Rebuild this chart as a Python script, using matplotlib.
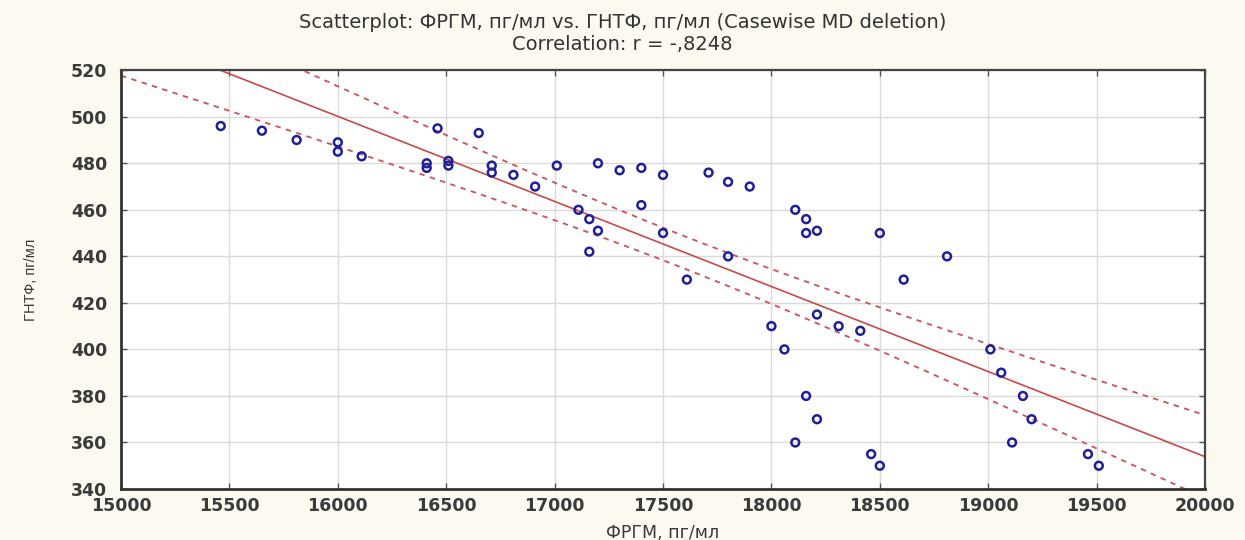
import matplotlib.pyplot as plt
import numpy as np

# ФРГМ, пг/мл
frgm = [15460, 15650, 15810, 16000, 16000, 16110, 16410, 16410, 16460, 16510,
        16510, 16650, 16710, 16710, 16810, 16910, 17010, 17110, 17160, 17160,
        17200, 17200, 17300, 17400, 17400, 17500, 17500, 17610, 17710, 17800,
        17800, 17900, 18000, 18060, 18110, 18110, 18160, 18160, 18160, 18210,
        18210, 18210, 18310, 18410, 18460, 18500, 18500, 18610, 18810, 19010,
        19060, 19110, 19160, 19200, 19460, 19510]
# ГНТФ, пг/мл
gntf = [496, 494, 490, 489, 485, 483, 480, 478, 495, 481,
        479, 493, 479, 476, 475, 470, 479, 460, 456, 442,
        480, 451, 477, 478, 462, 475, 450, 430, 476, 472,
        440, 470, 410, 400, 460, 360, 456, 450, 380, 451,
        415, 370, 410, 408, 355, 450, 350, 430, 440, 400,
        390, 360, 380, 370, 355, 350]

x = np.array(frgm, dtype=float)
y = np.array(gntf, dtype=float)
n = len(x)

# linear fit + 95% confidence band
b, a = np.polyfit(x, y, 1)
xs = np.linspace(15000, 20000, 200)
yfit = a + b * xs
resid = y - (a + b * x)
s = np.sqrt(np.sum(resid ** 2) / (n - 2))
se = s * np.sqrt(1 / n + (xs - x.mean()) ** 2 / np.sum((x - x.mean()) ** 2))
t = 2.005
lo = yfit - t * se
hi = yfit + t * se

bg = '#fcf9f0'
txt = '#3a3a3a'
fig = plt.figure(figsize=(12.45, 5.4), dpi=100, facecolor=bg)
ax = fig.add_axes([0.0972, 0.0944, 0.8707, 0.7756])
ax.set_facecolor('white')

ax.grid(True, color='#dadada', linewidth=1)
ax.set_axisbelow(True)

ax.plot(xs, yfit, color='#c94a4a', linewidth=1.2)
ax.plot(xs, lo, color='#d0505a', linewidth=1.3, linestyle=(0, (3, 3)))
ax.plot(xs, hi, color='#d0505a', linewidth=1.3, linestyle=(0, (3, 3)))

ax.scatter(x, y, s=32, facecolors='none', edgecolors='#1f1f99', linewidths=1.8, zorder=3)

ax.set_xlim(15000, 20000)
ax.set_ylim(340, 520)
ax.set_xticks(np.arange(15000, 20001, 500))
ax.set_yticks(np.arange(340, 521, 20))

for side in ['left', 'bottom']:
    ax.spines[side].set_linewidth(2)
    ax.spines[side].set_color('#333333')
for side in ['top', 'right']:
    ax.spines[side].set_linewidth(1.6)
    ax.spines[side].set_color('#444444')

ax.tick_params(direction='in', length=4, width=1, color='#555555',
               top=True, right=True, labelsize=12.5, labelcolor=txt)
ax.tick_params(axis='x', pad=6)
ax.tick_params(axis='y', pad=10)
for lab in ax.get_xticklabels() + ax.get_yticklabels():
    lab.set_family('DejaVu Sans')
    lab.set_fontweight('bold')

ax.set_xlabel('ФРГМ, пг/мл', fontsize=12.5, color=txt, family='DejaVu Sans')
ax.xaxis.set_label_coords(0.5, -0.083)
ax.set_ylabel('ГНТФ, пг/мл', fontsize=10.5, color=txt, family='Liberation Sans')
ax.yaxis.set_label_coords(-0.077, 0.5)

fig.text(0.5, 0.958, 'Scatterplot: ФРГМ, пг/мл vs. ГНТФ, пг/мл (Casewise MD deletion)',
         ha='center', va='center', fontsize=14, color='#333333', family='DejaVu Sans')
fig.text(0.5, 0.918, 'Correlation: r = -,8248',
         ha='center', va='center', fontsize=14, color='#333333', family='DejaVu Sans')

plt.savefig('out.png', dpi=100, facecolor=bg)
